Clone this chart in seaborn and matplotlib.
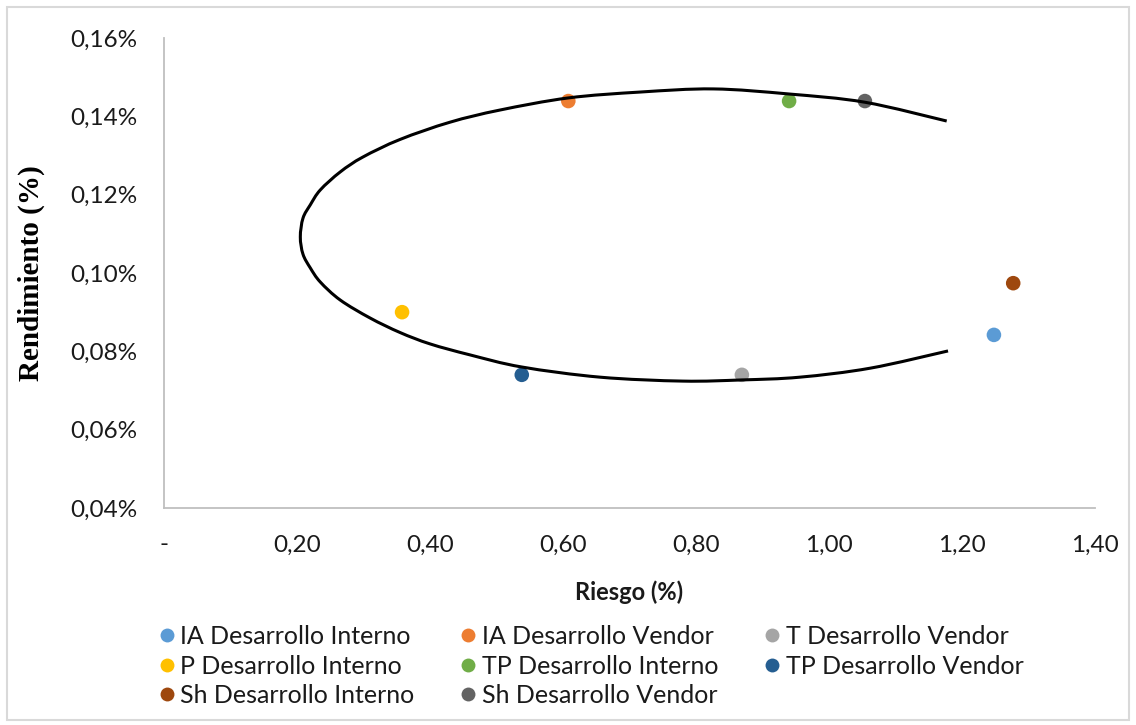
import matplotlib
matplotlib.use("Agg")
import matplotlib.pyplot as plt
import seaborn as sns
import pandas as pd
from matplotlib.lines import Line2D
from matplotlib.patches import Rectangle, PathPatch
from matplotlib.path import Path

# ---- data ----
series = ["IA Desarrollo Interno", "IA Desarrollo Vendor", "T Desarrollo Vendor",
          "P Desarrollo Interno", "TP Desarrollo Interno", "TP Desarrollo Vendor",
          "Sh Desarrollo Interno", "Sh Desarrollo Vendor"]
riesgo = [1.248, 0.608, 0.869, 0.358, 0.940, 0.538, 1.277, 1.054]
rendimiento = [0.0842, 0.1439, 0.0740, 0.0900, 0.1439, 0.0740, 0.0974, 0.1439]
colors = ["#5B9BD5", "#ED7D31", "#A5A5A5", "#FFC000", "#70AD47", "#255E91", "#9E480E", "#636363"]

frontier_riesgo = [1.177, 1.054, 0.940, 0.826, 0.716, 0.608, 0.505, 0.430, 0.355, 0.299,
                   0.265, 0.235, 0.220, 0.209, 0.205, 0.209, 0.220, 0.235, 0.265, 0.310,
                   0.355, 0.400, 0.460, 0.538, 0.656, 0.780, 0.869, 0.956, 1.062, 1.179]
frontier_rend = [0.1388, 0.1436, 0.1457, 0.1470, 0.1462, 0.1447, 0.1416, 0.1385, 0.1341, 0.1296,
                 0.1258, 0.1212, 0.1174, 0.1140, 0.1092, 0.1048, 0.1013, 0.0977, 0.0931, 0.0885,
                 0.0848, 0.0819, 0.0791, 0.0760, 0.0734, 0.0724, 0.0727, 0.0734, 0.0757, 0.0801]

x_ticks = [0.0, 0.2, 0.4, 0.6, 0.8, 1.0, 1.2, 1.4]
y_ticks = [0.04, 0.06, 0.08, 0.10, 0.12, 0.14, 0.16]

# ---- plot ----
sns.set_theme(style="white")
plt.rcParams["font.family"] = ["Lato", "DejaVu Sans"]

fig = plt.figure(figsize=(11.36, 7.25), dpi=100)
ax = fig.add_axes([164 / 1136, 1 - 508 / 725, (1095 - 164) / 1136, (508 - 38) / 725])

df = pd.DataFrame({"Riesgo": riesgo, "Rendimiento": rendimiento, "Serie": series})
sns.scatterplot(data=df, x="Riesgo", y="Rendimiento", hue="Serie", hue_order=series,
                palette=colors, s=110, edgecolor="none", legend=False, ax=ax, zorder=2)

# smoothed line through the frontier points (like Excel's "smoothed line")
pts = list(zip(frontier_riesgo, frontier_rend))
verts = [pts[0]]
codes = [Path.MOVETO]
n = len(pts)
for i in range(n - 1):
    p0 = pts[i - 1] if i > 0 else pts[i]
    p1 = pts[i]
    p2 = pts[i + 1]
    p3 = pts[i + 2] if i + 2 < n else pts[i + 1]
    c1 = (p1[0] + (p2[0] - p0[0]) / 6, p1[1] + (p2[1] - p0[1]) / 6)
    c2 = (p2[0] - (p3[0] - p1[0]) / 6, p2[1] - (p3[1] - p1[1]) / 6)
    verts += [c1, c2, p2]
    codes += [Path.CURVE4] * 3
ax.add_patch(PathPatch(Path(verts, codes), facecolor="none", edgecolor="black",
                       lw=2.2, zorder=3, transform=ax.transData))

ax.set_xlim(0, 1.4)
ax.set_ylim(0.04, 0.16)
ax.set_xticks(x_ticks)
ax.set_xticklabels(["-" if v == 0 else f"{v:.2f}".replace(".", ",") for v in x_ticks])
ax.set_yticks(y_ticks)
ax.set_yticklabels([f"{v:.2f}%".replace(".", ",") for v in y_ticks])
ax.tick_params(axis="both", length=0, labelsize=17.5, colors="#1a1a1a")
ax.tick_params(axis="y", pad=19)
ax.tick_params(axis="x", pad=19)

for s in ["top", "right"]:
    ax.spines[s].set_visible(False)
for s in ["left", "bottom"]:
    ax.spines[s].set_color("#BFBFBF")
    ax.spines[s].set_linewidth(1.3)
ax.grid(False)

ax.set_xlabel("Riesgo (%)", fontsize=17, fontweight="bold", color="#1a1a1a")
ax.xaxis.set_label_coords(0.5, (508 - 580) / 470)
ax.set_ylabel("Rendimiento (%)", fontsize=21, fontweight="bold",
              family=["Liberation Serif", "DejaVu Serif"], color="black")
ax.yaxis.set_label_coords((45 - 164) / 931, 0.5)

# legend (row-major as in reference)
handles = [Line2D([0], [0], marker="o", linestyle="none", markersize=10,
                  markerfacecolor=c, markeredgecolor="none") for c in colors]
order = [0, 3, 6, 1, 4, 7, 2, 5]
leg = fig.legend([handles[i] for i in order], [series[i] for i in order],
                 ncol=3, loc="upper left", bbox_to_anchor=(144 / 1136, 1 - 615 / 725),
                 frameon=False, fontsize=18, handletextpad=0.05, columnspacing=1.65,
                 labelspacing=0.26, handlelength=1.0, borderaxespad=0)
for t in leg.get_texts():
    t.set_color("#1a1a1a")

fig.patches.append(Rectangle((7 / 1136, 5 / 725), 1 - 14 / 1136, 1 - 12 / 725,
                             transform=fig.transFigure, fill=False,
                             edgecolor="#D9D9D9", lw=1.5))

fig.savefig("out.png", dpi=100)
